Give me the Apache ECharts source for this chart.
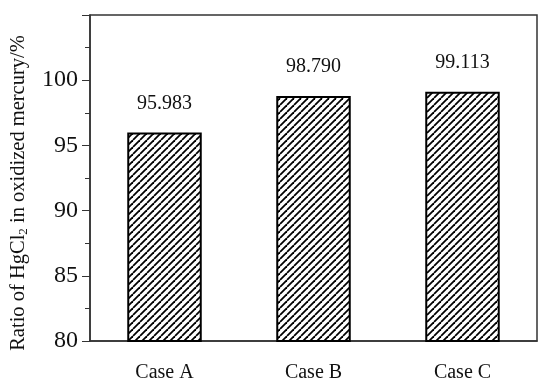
<!DOCTYPE html>
<html>
<head>
<meta charset="utf-8">
<script src="https://cdn.jsdelivr.net/npm/echarts@6/dist/echarts.min.js"></script>
<style>
  html, body { margin: 0; padding: 0; background: #fff; }
  #chart { width: 550px; height: 389px; }
</style>
</head>
<body>
<div id="chart"></div>
<script>
var categories = ["Case A", "Case B", "Case C"];
var ratios = [95.983, 98.790, 99.113];
var yTicks = [80, 85, 90, 95, 100];

// hatch pattern "/" for the bars
function makeHatch() {
  var c = document.createElement("canvas");
  var s = 7;
  c.width = s;
  c.height = s;
  var ctx = c.getContext("2d");
  ctx.fillStyle = "#fff";
  ctx.fillRect(0, 0, s, s);
  ctx.strokeStyle = "#000";
  ctx.lineWidth = 1.8;
  for (var k = -1; k <= 1; k++) {
    ctx.beginPath();
    ctx.moveTo(k * s, s);
    ctx.lineTo(k * s + s, 0);
    ctx.stroke();
  }
  return c;
}

var chart = echarts.init(document.getElementById("chart"));
var font = "'Liberation Serif', 'Times New Roman', serif";

var option = {
  animation: false,
  grid: {
    left: 90, right: 13, top: 15, bottom: 48,
    show: true, borderColor: "#333", borderWidth: 1.5
  },
  xAxis: [
    {
      type: "category",
      data: categories,
      axisLine: { lineStyle: { color: "#333", width: 1.5 } },
      axisTick: { alignWithLabel: true, length: 5, lineStyle: { color: "#333" } },
      axisLabel: { margin: 22, fontSize: 20, color: "#111", fontFamily: font }
    },
    {
      type: "category",
      data: categories,
      position: "bottom",
      axisLine: { show: false },
      axisTick: { length: 3, lineStyle: { color: "#333" } },
      axisLabel: { show: false }
    }
  ],
  yAxis: {
    type: "value",
    min: 80,
    max: 105,
    interval: 5,
    name: "{a|Ratio of HgCl}{s|2}{a| in oxidized mercury/%}",
    nameLocation: "middle",
    nameGap: 60,
    nameTextStyle: {
      padding: [0, 30, 0, 0],
      rich: {
        a: { fontSize: 20.5, lineHeight: 23, color: "#111", fontFamily: font },
        s: { fontSize: 13, lineHeight: 13, verticalAlign: "bottom", color: "#111", fontFamily: font }
      }
    },
    axisLine: { show: true, lineStyle: { color: "#333", width: 1.5 } },
    axisTick: { show: true, length: 8, lineStyle: { color: "#333" } },
    minorTick: { show: true, splitNumber: 2, length: 5, lineStyle: { color: "#333" } },
    splitLine: { show: false },
    axisLabel: {
      customValues: yTicks,
      margin: 12, fontSize: 24, color: "#111", fontFamily: font
    }
  },
  series: [
    {
      type: "bar",
      data: ratios,
      barWidth: "50%",
      itemStyle: {
        color: { image: makeHatch(), repeat: "repeat" },
        borderColor: "#000",
        borderWidth: 2
      },
      label: {
        show: true,
        position: "top",
        distance: 19,
        fontSize: 20,
        color: "#111",
        fontFamily: font,
        formatter: function (p) { return p.value.toFixed(3); }
      }
    }
  ]
};

chart.setOption(option);
</script>
</body>
</html>
